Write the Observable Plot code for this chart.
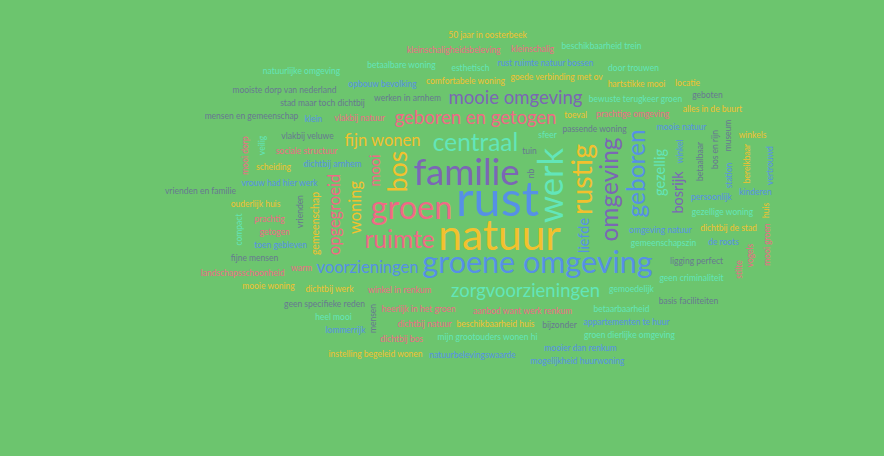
<!DOCTYPE html>
<html><head><meta charset="utf-8">
<script src="https://cdn.jsdelivr.net/npm/d3@7"></script>
<script src="https://cdn.jsdelivr.net/npm/@observablehq/plot@0.6"></script>
<style>html,body{margin:0;padding:0;background:#6cc56e;overflow:hidden}#chart{width:884px;height:456px}</style>
</head><body><div id="chart"></div>
<script>
// word, mention count, colour group, orientation (1 = vertical)
const words = [
  "rust","natuur","familie","werk","groen","groene omgeving","rustig","bos","centraal","ruimte",
  "omgeving","geboren","geboren en getogen","zorgvoorzieningen","mooie omgeving","voorzieningen","fijn wonen","woning","opgegroeid","liefde",
  "gezellig","bosrijk","mooi","gemeenschap","passende woning","omgeving natuur","dichtbij arnhem","gemeenschapszin","aanbod want werk renkum","winkel in renkum",
  "werken in arnhem","prachtige omgeving","heerlijk in het groen","sociale structuur","vlakbij natuur","comfortabele woning","beschikbaarheid huis","goede verbinding met ov","gemoedelijk","vrienden",
  "winkel","vrouw had hier werk","bewuste terugkeer groen","persoonlijk","vlakbij veluwe","betaalbaar","gezellige woning","ligging perfect","betaarbaarheid","mooie natuur",
  "dichtbij natuur","dichtbij werk","toen gebleven","opbouw bevolking","dichtbij de stad","toeval","nb","bos en rijn","bijzonder","prachtig",
  "sfeer","geen criminaliteit","mijn grootouders wonen hi","scheiding","stad maar toch dichtbij","mensen","ouderlijk huis","esthetisch","warm","klein",
  "de roots","rust ruimte natuur bossen","hartstikke mooi","station","appartementen te huur","geen specifieke reden","betaalbare woning","basis faciliteiten","kleinschaligheidsbeleving","groen dierlijke omgeving",
  "kleinschalig","bereikbaar","dichtbij bos","fijne mensen","mooier dan renkum","natuurbelevingswaarde","alles in de buurt","heel mooi","veilig","museum",
  "tuin","kinderen","door trouwen","mooiste dorp van nederland","mensen en gemeenschap","mooie woning","compact","mooi dorp","vogels","landschapsschoonheid",
  "getogen","50 jaar in oosterbeek","beschikbaarheid trein","mogelijkheid huurwoning","instelling begeleid wonen","lommerrijk","natuurlijke omgeving","vrienden en familie","huis","locatie",
  "geboten","winkels","vertrouwd","mooi groen","stilte"
];
const counts = [
  21,18,15,14,13,12,11,10,9,9,
  9,9,6,6,6,5,5,5,5,4,
  4,4,4,2,1,1,1,1,1,1,
  1,1,1,1,1,1,1,1,1,1,
  1,1,1,1,1,1,1,1,1,1,
  1,1,1,1,1,1,1,1,1,1,
  1,1,1,1,1,1,1,1,1,1,
  1,1,1,1,1,1,1,1,1,1,
  1,1,1,1,1,1,1,1,1,1,
  1,1,1,1,1,1,1,1,1,1,
  1,1,1,1,1,1,1,1,1,1,
  1,1,1,1,1
];
const groups = [
  "b","y","p","a","k","b","y","y","a","k",
  "p","b","k","a","p","b","y","y","k","b",
  "a","p","k","y","g","b","b","a","k","k",
  "g","k","k","k","k","y","y","y","a","g",
  "b","b","a","b","g","g","a","g","a","b",
  "k","y","b","b","y","y","g","g","g","k",
  "a","a","a","y","g","g","y","a","k","b",
  "b","b","y","b","b","g","a","g","k","a",
  "k","y","k","g","b","b","y","a","a","g",
  "g","b","a","g","g","y","a","k","k","k",
  "k","y","a","b","y","b","a","g","y","y",
  "g","y","b","k","k"
];
const vertical = [
  0,0,0,1,0,0,1,1,0,0,
  1,1,0,0,0,0,0,1,1,1,
  1,1,1,1,0,0,0,0,0,0,
  0,0,0,0,0,0,0,0,0,1,
  1,0,0,0,0,1,0,0,0,0,
  0,0,0,0,0,0,1,1,0,0,
  0,0,0,0,0,1,0,0,0,0,
  0,0,0,1,0,0,0,0,0,0,
  0,1,0,0,0,0,0,0,1,1,
  0,0,0,0,0,0,1,1,1,0,
  0,0,0,0,0,0,0,0,1,0,
  0,0,1,1,1
];
const groupNames = ["b","p","k","y","a","g"];
const groupColors = ["#5690e6","#7b67b5","#ee6a86","#f2c12e","#62e6b9","#687892"];

const W = 884, H = 456, CX = 497, CY = 200, FONT = "Lato";
const sizeScale = d3.scaleLinear().domain([1, 21]).range([8.5, 48.5]);

const table = words.map((w, i) => ({
  text: w, count: counts[i], group: groups[i], rotate: vertical[i] ? -90 : 0, size: sizeScale(counts[i]), i
}));
table.sort((a, b) => b.size - a.size || a.i - b.i);

// pixel-mask spiral word-cloud layout (like d3-cloud)
const PAD = 2.5, ecc = 1.75;
const grid = new Uint8Array(W * H);
const cv = document.createElement("canvas");
const c2 = cv.getContext("2d", {willReadFrequently: true});
function maskFor(d) {
  c2.font = `${d.size}px ${FONT}`;
  const tw = c2.measureText(d.text).width;
  let S = Math.ceil(Math.max(tw, d.size * 1.5) + 4 * PAD + 6);
  S += S % 2;
  cv.width = S; cv.height = S;
  c2.setTransform(1, 0, 0, 1, 0, 0);
  c2.clearRect(0, 0, S, S);
  c2.font = `${d.size}px ${FONT}`;
  c2.textAlign = "center"; c2.textBaseline = "alphabetic";
  c2.translate(S / 2, S / 2); c2.rotate(d.rotate * Math.PI / 180);
  c2.lineWidth = 2 * PAD; c2.lineJoin = "round";
  c2.fillStyle = c2.strokeStyle = "#000";
  c2.fillText(d.text, 0, 0.32 * d.size);
  c2.strokeText(d.text, 0, 0.32 * d.size);
  const img = c2.getImageData(0, 0, S, S).data;
  const pts = [];
  let x0 = 1e9, x1 = -1e9, y0 = 1e9, y1 = -1e9;
  for (let j = 0; j < S; j++) for (let i = 0; i < S; i++) {
    if (img[(j * S + i) * 4 + 3] > 16) {
      const ox = i - S / 2, oy = j - S / 2;
      pts.push(ox, oy);
      if (ox < x0) x0 = ox; if (ox > x1) x1 = ox; if (oy < y0) y0 = oy; if (oy > y1) y1 = oy;
    }
  }
  return {pts, x0, x1, y0, y1};
}
const rects = [];
const layout = [];
for (const d of table) {
  const m = maskFor(d);
  for (let s = 0; s < 60000; s++) {
    const t = s * 0.1;
    const x = Math.round(CX - ecc * t * Math.cos(t)), y = Math.round(CY - t * Math.sin(t));
    const r = {x0: x + m.x0, x1: x + m.x1, y0: y + m.y0, y1: y + m.y1};
    if (r.x0 < 1 || r.y0 < 1 || r.x1 > W - 2 || r.y1 > H - 2) continue;
    let overlapsBox = false;
    for (const p of rects) if (r.x0 <= p.x1 && r.x1 >= p.x0 && r.y0 <= p.y1 && r.y1 >= p.y0) { overlapsBox = true; break; }
    let ok = true;
    if (overlapsBox) {
      const P = m.pts;
      for (let k = 0; k < P.length; k += 2) {
        if (grid[(y + P[k + 1]) * W + x + P[k]]) { ok = false; break; }
      }
    }
    if (ok) {
      const P = m.pts;
      for (let k = 0; k < P.length; k += 2) grid[(y + P[k + 1]) * W + x + P[k]] = 1;
      rects.push(r);
      layout.push({...d, x, y});
      break;
    }
  }
}

const chart = Plot.plot({
  width: W, height: H, margin: 0,
  x: {domain: [0, W], range: [0, W], axis: null},
  y: {domain: [0, H], range: [0, H], axis: null},
  color: {type: "ordinal", domain: groupNames, range: groupColors},
  style: {background: "#6cc56e", fontFamily: FONT},
  marks: [
    Plot.text(layout, {x: "x", y: "y", text: "text", fill: "group",
      fontSize: d => d.size, rotate: d => d.rotate, fontFamily: FONT})
  ]
});
document.getElementById("chart").append(chart);
</script>
</body></html>
